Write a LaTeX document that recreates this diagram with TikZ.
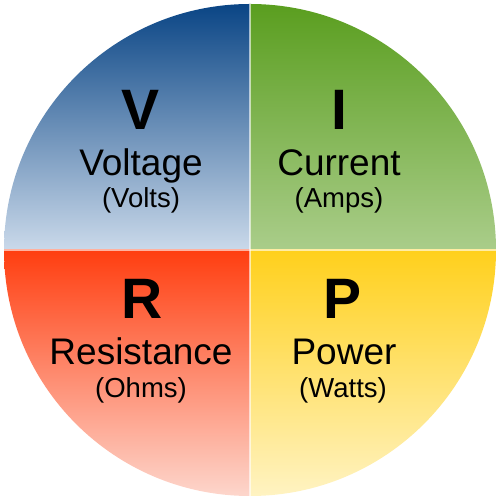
\documentclass[tikz,border=0pt]{standalone}
\usepackage{fontspec}
\setmainfont{Liberation Sans}
\definecolor{blueT}{HTML}{0A4585}
\definecolor{blueB}{HTML}{CAD9EA}
\definecolor{greenT}{HTML}{5A9E1F}
\definecolor{greenB}{HTML}{AACD8A}
\definecolor{redT}{HTML}{FF3E10}
\definecolor{redB}{HTML}{FDD6CC}
\definecolor{yelT}{HTML}{FFD01C}
\definecolor{yelB}{HTML}{FFF3C2}
\tikzset{
  bigletter/.style={anchor=base, inner sep=0pt, font=\fontsize{57}{57}\selectfont\bfseries},
  midtext/.style={anchor=base, inner sep=0pt, font=\fontsize{37}{37}\selectfont},
  smalltext/.style={anchor=base, inner sep=0pt, font=\fontsize{27.5}{27.5}\selectfont},
  divider/.style={white, opacity=0.6, line width=1.2pt}
}
\begin{document}
\begin{tikzpicture}[x=1pt,y=1pt]
\useasboundingbox (0,0) rectangle (500,500);
\coordinate (c) at (250,250);
\coordinate (top) at (250,496);
\coordinate (bot) at (250,4);
\coordinate (lft) at (4,250);
\coordinate (rgt) at (496,250);
\begin{scope}
  \clip (c) circle (246);
  \shade[top color=blueT, bottom color=blueB] (4,250) rectangle (250,496);
  \shade[top color=greenT, bottom color=greenB] (250,250) rectangle (496,496);
  \shade[top color=redT, bottom color=redB] (4,4) rectangle (250,250);
  \shade[top color=yelT, bottom color=yelB] (250,4) rectangle (496,250);
  \draw[divider] (top) -- (bot);
  \draw[divider] (lft) -- (rgt);
\end{scope}
\node[bigletter] (V) at (141,370) {V};
\node[midtext] (volt) at (141,324) {Voltage};
\node[smalltext] (volts) at (141,292) {(Volts)};
\node[bigletter] (I) at (339,370) {I};
\node[midtext] (curr) at (339,324) {Current};
\node[smalltext] (amps) at (339,292) {(Amps)};
\node[bigletter] (R) at (142,181) {R};
\node[midtext] (res) at (141,135) {Resistance};
\node[smalltext] (ohms) at (141,102) {(Ohms)};
\node[bigletter] (P) at (343,181) {P};
\node[midtext] (pow) at (344,135) {Power};
\node[smalltext] (watts) at (343,102) {(Watts)};
\end{tikzpicture}
\end{document}
